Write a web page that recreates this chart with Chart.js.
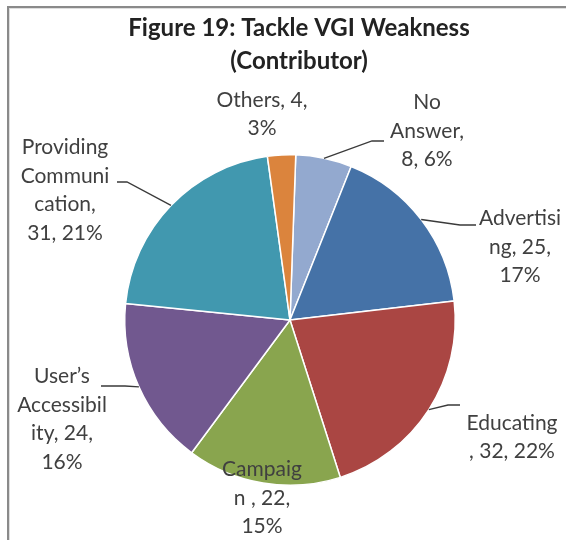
<!DOCTYPE html>
<html>
<head>
<meta charset="utf-8">
<title>Tackle VGI Weakness (Contributor)</title>
<script src="https://cdn.jsdelivr.net/npm/chart.js@4.4.1/dist/chart.umd.min.js"></script>
<style>
    html, body { margin: 0; padding: 0; background: #fff; }
    #wrap { width: 566px; height: 540px; }
</style>
</head>
<body>
<div id="wrap"><canvas id="pieChart" width="566" height="540"></canvas></div>
<script>
// Survey answers (contributors)
const categories = ['No Answer', 'Advertising', 'Educating', 'Campaign ', 'User\u2019s Accessibility', 'Providing Communication', 'Others'];
const counts = [8, 25, 32, 22, 24, 31, 4];
const percents = [6, 17, 22, 15, 16, 21, 3];
const sliceColors = ['#93A9CF', '#4572A7', '#AA4643', '#89A54E', '#71588F', '#4198AF', '#DB843D'];

// Characters per label line before the rest wraps
const labelWraps = [[2, 8], [9, 7], [9], [7, 7], [6, 11, 8], [9, 8, 7], [10]];

// Label block offsets from the pie centre, leader = [elbowX, elbowY, tail]
const labelPlacement = [
    { dx: 137, dy: -189, leader: [82, -179, 12] },
    { dx: 230, dy: -73, leader: [170, -95, 16] },
    { dx: 222, dy: 117, leader: [158, 85, 12] },
    { dx: -28, dy: 178 },
    { dx: -228, dy: 99, leader: [-165, 66, -24] },
    { dx: -225, dy: -130, leader: [-163, -138, -10] },
    { dx: -28, dy: -206 }
];

const titleLines = ['Figure 19: Tackle VGI Weakness', '(Contributor)'];
const LABEL_FONT = '21px Lato';
const LINE_H = 28.5;

// Break "name, count, pct%" into the wrapped lines
function wrapLabel(i) {
    let text = `${categories[i]}, ${counts[i]}, ${percents[i]}%`;
    const lines = [];
    labelWraps[i].forEach(n => {
        lines.push(text.slice(0, n).trim());
        text = text.slice(n);
    });
    lines.push(text.trim());
    return lines;
}

// Grey frame round the chart
const chartFrame = {
    id: 'chartFrame',
    beforeDraw(chart) {
        const ctx = chart.ctx;
        ctx.save();
        ctx.strokeStyle = '#8a8a8a';
        ctx.lineWidth = 2;
        ctx.strokeRect(8, 7, chart.width + 20, chart.height + 20);
        ctx.strokeStyle = '#dedede';
        ctx.lineWidth = 1;
        ctx.strokeRect(9.5, 8.5, chart.width + 20, chart.height + 20);
        ctx.restore();
    }
};

// Two-line bold title
const chartTitle = {
    id: 'chartTitle',
    afterDraw(chart) {
        const ctx = chart.ctx;
        ctx.save();
        ctx.font = 'bold 24px Lato';
        ctx.fillStyle = '#222';
        ctx.textAlign = 'center';
        ctx.textBaseline = 'middle';
        titleLines.forEach((t, k) => ctx.fillText(t, 299, 28 + k * 33));
        ctx.restore();
    }
};

// Data labels with leader lines
const pieLabels = {
    id: 'pieLabels',
    afterDatasetsDraw(chart) {
        const ctx = chart.ctx;
        const arcs = chart.getDatasetMeta(0).data;
        ctx.save();
        arcs.forEach((arc, i) => {
            const p = labelPlacement[i];
            const cx = arc.x, cy = arc.y;
            if (p.leader) {
                const mid = (arc.startAngle + arc.endAngle) / 2;
                const [ex, ey, tail] = p.leader;
                ctx.beginPath();
                ctx.moveTo(cx + arc.outerRadius * Math.cos(mid), cy + arc.outerRadius * Math.sin(mid));
                ctx.lineTo(cx + ex, cy + ey);
                ctx.lineTo(cx + ex + tail, cy + ey);
                ctx.strokeStyle = '#3a3a3a';
                ctx.lineWidth = 1.3;
                ctx.stroke();
            }
            const lines = wrapLabel(i);
            ctx.font = LABEL_FONT;
            ctx.fillStyle = '#404040';
            ctx.textAlign = 'center';
            ctx.textBaseline = 'middle';
            const top = cy + p.dy - (lines.length - 1) * LINE_H / 2;
            lines.forEach((t, k) => ctx.fillText(t, cx + p.dx, top + k * LINE_H));
        });
        ctx.restore();
    }
};

function initializeChart() {
    const ctx = document.getElementById('pieChart').getContext('2d');
    new Chart(ctx, {
        type: 'pie',
        data: {
            labels: categories,
            datasets: [{
                data: counts,
                backgroundColor: sliceColors,
                borderColor: '#ffffff',
                borderWidth: 1.5,
                hoverOffset: 0
            }]
        },
        options: {
            responsive: false,
            animation: false,
            rotation: 2,
            layout: {
                padding: { top: 154, bottom: 54, left: 124, right: 110 }
            },
            plugins: {
                legend: { display: false },
                title: { display: false },
                tooltip: { enabled: false }
            }
        },
        plugins: [chartFrame, chartTitle, pieLabels]
    });
}

document.addEventListener('DOMContentLoaded', initializeChart);
</script>
</body>
</html>
